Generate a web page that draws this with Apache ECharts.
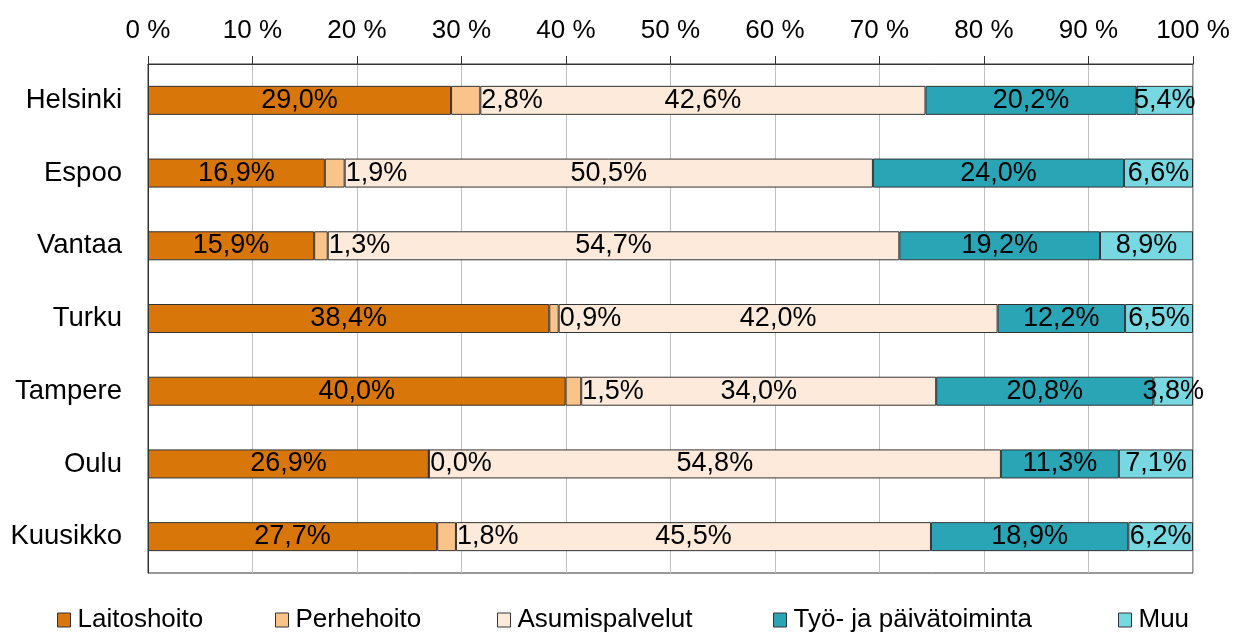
<!DOCTYPE html>
<html><head><meta charset="utf-8">
<script src="https://cdn.jsdelivr.net/npm/echarts@6/dist/echarts.min.js"></script>
<style>html,body{margin:0;padding:0;background:#fff}#c{width:1235px;height:632px}</style>
</head><body><div id="c"></div>
<script>
const categories = ['Helsinki','Espoo','Vantaa','Turku','Tampere','Oulu','Kuusikko'];
const seriesNames = ['Laitoshoito','Perhehoito','Asumispalvelut','Työ- ja päivätoiminta','Muu'];
const laitoshoito = [29.0, 16.9, 15.9, 38.4, 40.0, 26.9, 27.7];
const perhehoito = [2.8, 1.9, 1.3, 0.9, 1.5, 0.0, 1.8];
const asumispalvelut = [42.6, 50.5, 54.7, 42.0, 34.0, 54.8, 45.5];
const tyoJaPaivatoiminta = [20.2, 24.0, 19.2, 12.2, 20.8, 11.3, 18.9];
const muu = [5.4, 6.6, 8.9, 6.5, 3.8, 7.1, 6.2];
const xTickLabels = ['0 %','10 %','20 %','30 %','40 %','50 %','60 %','70 %','80 %','90 %','100 %'];

const raw = [laitoshoito, perhehoito, asumispalvelut, tyoJaPaivatoiminta, muu];
const colors = ['#D9760A','#F9C38A','#FDEADA','#2AA5B6','#78D8E2'];
const totals = categories.map((c,i)=>raw.reduce((s,a)=>s+a[i],0));
const FONT = '"Liberation Sans", Arial, sans-serif';
const fmt = v => v.toFixed(1).replace('.', ',') + '%';

const series = raw.map((arr, si) => ({
  name: seriesNames[si],
  type: 'bar',
  stack: 'total',
  barWidth: 29,
  z: si === 1 ? 3 : 2,
  itemStyle: { color: colors[si], borderColor: '#333', borderWidth: 1 },
  label: {
    show: true,
    position: si === 1 ? 'right' : 'inside',
    distance: 1,
    color: '#000',
    fontSize: 27,
    fontFamily: FONT,
    formatter: p => fmt(arr[p.dataIndex])
  },
  data: arr.map((v,i) => v / totals[i] * 100)
}));

const legendLefts = [57, 275, 497, 773, 1118];
const legends = seriesNames.map((n,i)=>({
  data: [n],
  left: legendLefts[i],
  top: 607,
  icon: 'rect',
  itemWidth: 13,
  itemHeight: 14,
  itemGap: 0,
  padding: 0,
  selectedMode: false,
  itemStyle: { borderColor: '#333', borderWidth: 1 },
  textStyle: { fontSize: 26, fontFamily: FONT, color: '#000', padding: [0,0,0,2] }
}));

const chart = echarts.init(document.getElementById('c'), null, {renderer: 'canvas'});
chart.setOption({
  animation: false,
  backgroundColor: '#fff',
  grid: { left: 148, right: 42, top: 64, bottom: 59, show: true, borderColor: '#333', borderWidth: 1, backgroundColor: 'transparent' },
  legend: legends,
  xAxis: {
    type: 'value',
    position: 'top',
    min: 0, max: 100, interval: 10,
    axisLine: { show: true, lineStyle: { color: '#333', width: 1 } },
    axisTick: { show: true, length: 8, lineStyle: { color: '#333' } },
    splitLine: { show: true, lineStyle: { color: '#c0c0c0', width: 1 } },
    axisLabel: { margin: 20, fontSize: 26, fontFamily: FONT, color: '#000',
      formatter: v => xTickLabels[Math.round(v/10)] }
  },
  yAxis: {
    type: 'category',
    inverse: true,
    data: categories,
    axisLine: { show: true, lineStyle: { color: '#333', width: 1 } },
    axisTick: { show: false },
    axisLabel: { margin: 26, fontSize: 27.5, fontFamily: FONT, color: '#000' }
  },
  series: series
});
</script>
</body></html>
